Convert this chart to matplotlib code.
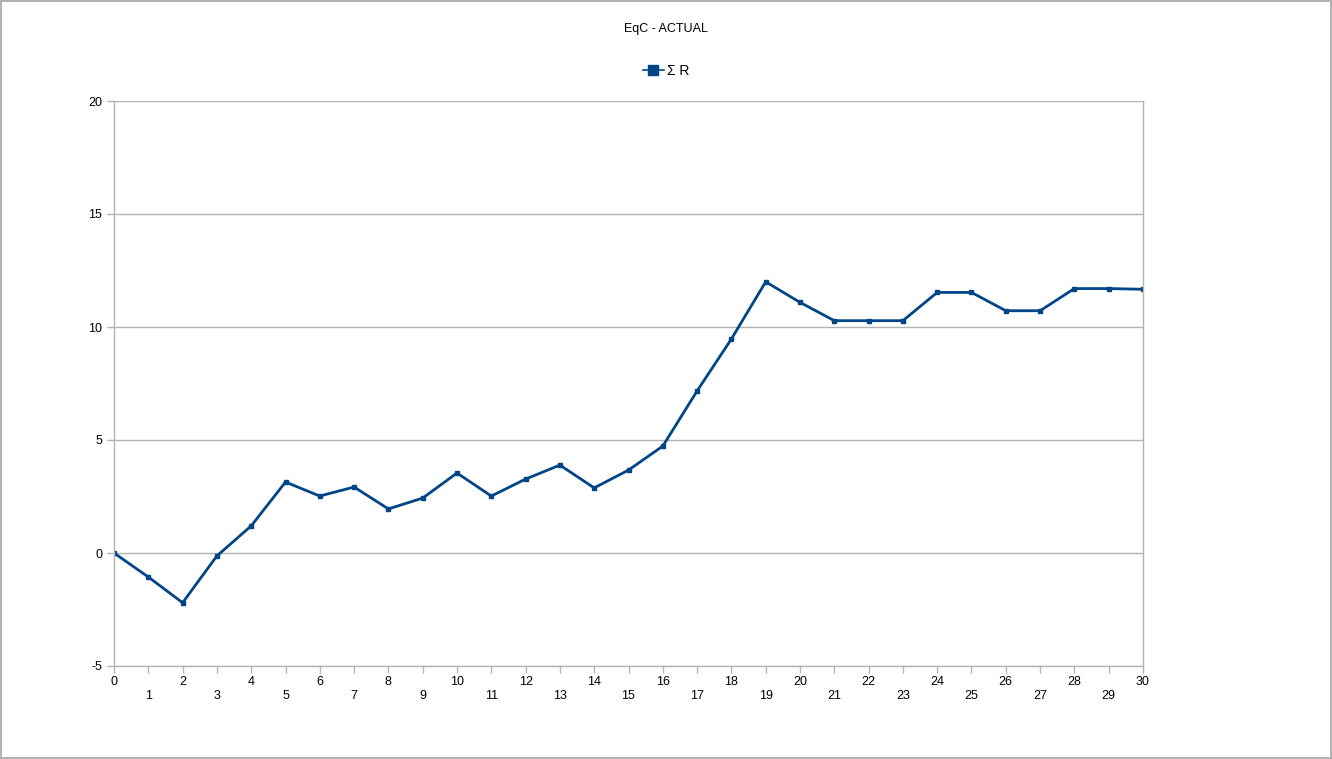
import numpy as np
import matplotlib.pyplot as plt

plt.rcParams['font.family'] = ['Liberation Sans', 'DejaVu Sans']
plt.rcParams['axes.unicode_minus'] = False

# cumulative R per trade
trades = list(range(31))
sum_r = [0.0, -1.06, -2.2, -0.13, 1.2, 3.14, 2.52, 2.92, 1.95, 2.43,
         3.54, 2.52, 3.27, 3.89, 2.88, 3.67, 4.73, 7.17, 9.47, 12.0,
         11.09, 10.28, 10.28, 10.28, 11.53, 11.53, 10.72, 10.72, 11.7, 11.7,
         11.67]
y_ticks = [-5, 0, 5, 10, 15, 20]

fig = plt.figure(figsize=(13.32, 7.59), dpi=100, edgecolor='#b3b3b3', linewidth=1.5)
ax = fig.add_axes([114/1332, 93/759, (1143-114)/1332, (666-101)/759])

ax.plot(trades, sum_r, color='#004586', lw=2, marker='s', ms=3, label='Σ R')

ax.set_xlim(0, 30)
ax.set_ylim(-5, 20)
ax.set_yticks(y_ticks)
ax.yaxis.grid(True, color='#b3b3b3', lw=1)
ax.set_axisbelow(True)

ax.set_xticks(trades)
ax.set_xticklabels([str(t) if t % 2 == 0 else '\n' + str(t) for t in trades])

for side in ['top', 'right', 'left', 'bottom']:
    ax.spines[side].set_color('#b3b3b3')
    ax.spines[side].set_linewidth(1)
ax.spines['top'].set_visible(False)
ax.tick_params(axis='both', color='#b3b3b3', length=5, labelsize=9, width=1)
ax.tick_params(axis='x', pad=2)

fig.text(0.5, 1 - 29/759, 'EqC - ACTUAL', ha='center', va='center', fontsize=9)
leg = fig.legend(loc='center', bbox_to_anchor=(0.5, 1 - 71/759), frameon=False,
                 fontsize=10, handlelength=1.5, handletextpad=0.2, markerscale=2.5)
for h in leg.get_lines():
    h.set_linewidth(1.2)

plt.savefig('out.png', dpi=100)
